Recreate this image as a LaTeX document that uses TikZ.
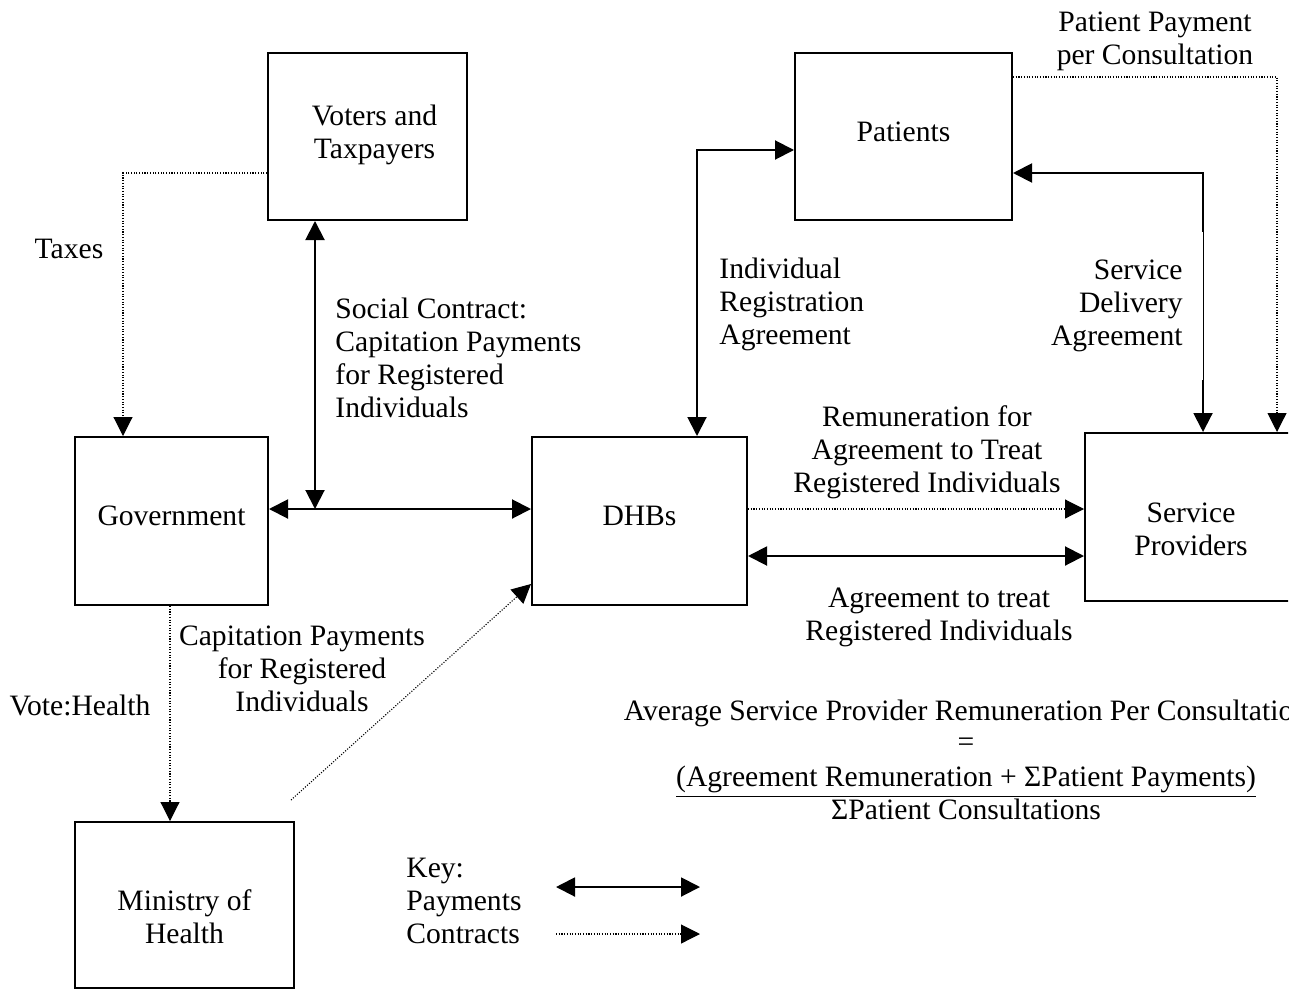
\documentclass[tikz,border=0pt]{standalone}
\usepackage{fontspec}
\setmainfont{Liberation Serif}
\usetikzlibrary{arrows.meta}

\tikzset{
  actor/.style={draw, line width=1pt, inner sep=0pt},
  boxtext/.style={inner sep=0pt, align=center},
  lbl/.style={inner sep=0pt},
  tip/.tip={Triangle[length=9.5pt,width=9.5pt]},
  pay/.style={line width=1pt, tip-tip},
  contract/.style={line width=0.55pt, dash pattern=on 0.55pt off 0.8pt, -tip},
}

\begin{document}
\begin{tikzpicture}[x=0.5pt, y=-0.5pt,
  every node/.append style={font=\fontsize{14.8pt}{16.5pt}\selectfont}]
\useasboundingbox (0,0) rectangle (1304,990);
\clip (0,0) rectangle (1288,990);

% actors
\node[actor, minimum width=99.5pt,  minimum height=83.5pt,
  label={[boxtext, xshift=3.5pt, yshift=1pt]center:Voters and\\Taxpayers}] (voters) at (367.5,136.5) {};
\node[actor, minimum width=108.5pt, minimum height=83.5pt,
  label={[boxtext, yshift=2.5pt]center:Patients}] (patients) at (903.5,136.5) {};
\node[actor, minimum width=96.5pt,  minimum height=84pt,
  label={[boxtext, yshift=2.5pt]center:Government}] (gov) at (171.5,521) {};
\node[actor, minimum width=107.5pt, minimum height=84pt,
  label={[boxtext, yshift=2.5pt]center:DHBs}] (dhb) at (639.5,521) {};
\node[actor, minimum width=106pt,   minimum height=84pt,
  label={[boxtext, yshift=-6pt]center:Service\\Providers}] (sp) at (1191,517) {};
\node[actor, minimum width=109.5pt, minimum height=83pt,
  label={[boxtext, yshift=-6pt]center:Ministry of\\Health}] (moh) at (184.5,905) {};

% routing rows and columns
\coordinate (taxrow) at (0,173);
\coordinate (taxcol) at (123,0);
\coordinate (sccol)  at (315,0);
\coordinate (govdhb) at (0,509);
\coordinate (vhcol)  at (170,0);
\coordinate (mohout) at (291,800);
\coordinate (mohin)  at (0,584);
\coordinate (ircol)  at (697,0);
\coordinate (irrow)  at (0,150);
\coordinate (sdrow)  at (0,173);
\coordinate (sdcol)  at (1203,0);
\coordinate (pprow)  at (0,77);
\coordinate (ppcol)  at (1277,0);
\coordinate (remrow) at (0,509);
\coordinate (agrow)  at (0,556);
\coordinate (keyPa)  at (556,887);
\coordinate (keyPb)  at (700,887);
\coordinate (keyCa)  at (556,934);
\coordinate (keyCb)  at (700,934);

% connectors
\draw[contract] (voters.west |- taxrow) -| (gov.north -| taxcol);
\draw[pay] (gov.east |- govdhb) -- (dhb.west |- govdhb);
\draw[pay] (voters.south -| sccol) -- (sccol |- govdhb);
\draw[contract] (gov.south -| vhcol) -- (moh.north -| vhcol);
\draw[contract] (mohout) -- (dhb.west |- mohin);
\draw[pay] (dhb.north -| ircol) |- (patients.west |- irrow);
\draw[pay] (patients.east |- sdrow) -| (sp.north -| sdcol);
\draw[contract] (patients.east |- pprow) -| (sp.north -| ppcol);
\draw[contract] (dhb.east |- remrow) -- (sp.west |- remrow);
\draw[pay] (dhb.east |- agrow) -- (sp.west |- agrow);

% labels
\node[lbl] (taxes) at (69,249) {Taxes};
\node[lbl, anchor=west, align=left] (social) at (335,358)
  {Social Contract:\\Capitation Payments\\for Registered\\Individuals};
\node[lbl, align=center] (capit) at (302,669)
  {Capitation Payments\\for Registered\\Individuals};
\node[lbl] (votehealth) at (80,705) {Vote:Health};
\node[lbl, anchor=west, align=left] (indreg) at (719,304)
  {Individual\\Registration\\Agreement};
\node[lbl, anchor=east, align=right, fill=white, inner xsep=10pt, inner ysep=14pt] (servdel) at (1203,306)
  {Service\\Delivery\\Agreement};
\node[lbl, align=center] (patpay) at (1155,41)
  {Patient Payment\\per Consultation};
\node[lbl, align=center] (remun) at (927,452)
  {Remuneration for\\Agreement to Treat\\Registered Individuals};
\node[lbl, align=center] (agree) at (939,617)
  {Agreement to treat\\Registered Individuals};

% average remuneration formula
\node[lbl, align=center, anchor=north] (formula) at (966,700)
  {Average Service Provider Remuneration Per Consultation\\[-1pt]
   =\\[1pt]
   \underline{(Agreement Remuneration + ΣPatient Payments)}\\
   ΣPatient Consultations};

% key
\node[lbl, anchor=west, align=left] (key) at (406,901)
  {Key:\\Payments\\Contracts};
\draw[pay] (keyPa) -- (keyPb);
\draw[contract] (keyCa) -- (keyCb);
\end{tikzpicture}
\end{document}
